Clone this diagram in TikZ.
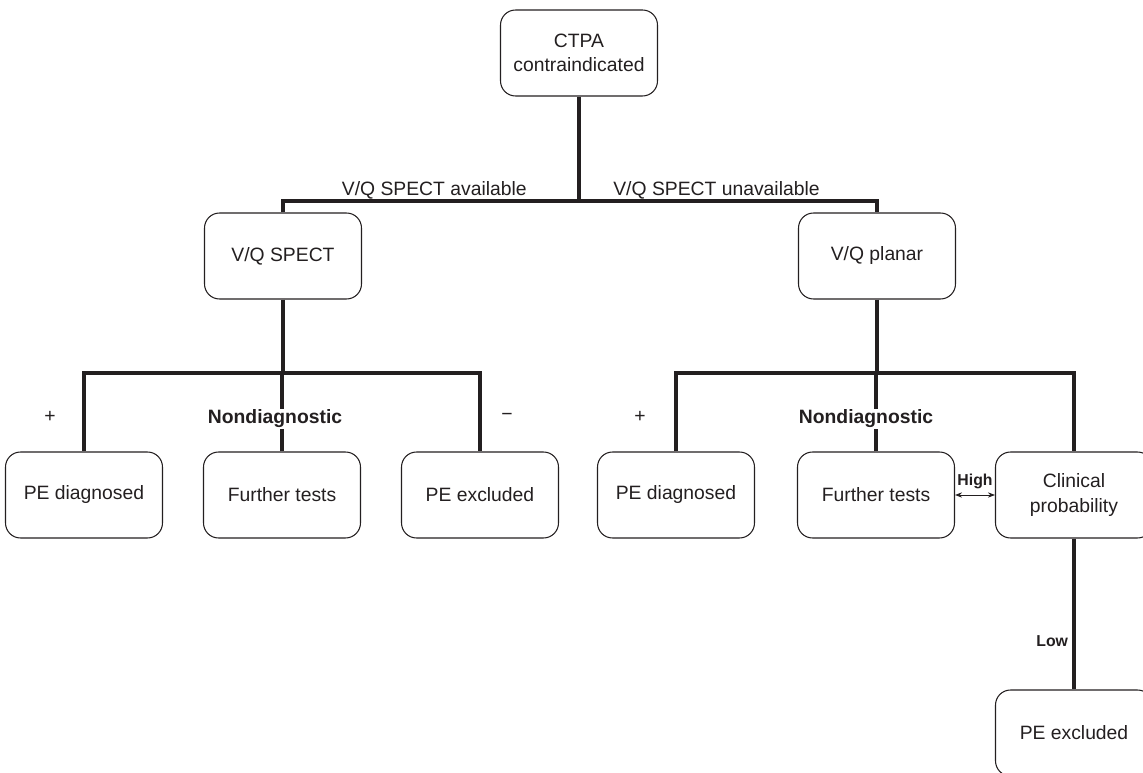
\documentclass[tikz,border=0pt]{standalone}
\usepackage{fontspec}
\setmainfont{Liberation Sans}
\usetikzlibrary{arrows.meta}
\definecolor{inkcolor}{HTML}{231F20}

\begin{document}
\begin{tikzpicture}[
    x=0.02cm, y=-0.02cm,
    block/.style={rectangle, draw=inkcolor, line width=0.6pt, rounded corners=0.3cm,
                  minimum width=3.14cm, minimum height=1.72cm, align=center,
                  text=inkcolor, font=\fontsize{11pt}{14pt}\selectfont},
    branch/.style={draw=inkcolor, line width=2.8pt},
    tag/.style={text=inkcolor, font=\fontsize{11pt}{13pt}\selectfont},
    boldtag/.style={text=inkcolor, font=\fontsize{11pt}{13pt}\selectfont\bfseries,
                    fill=white, inner sep=0.5pt},
    smalltag/.style={text=inkcolor, font=\fontsize{9pt}{11pt}\selectfont\bfseries, inner sep=1pt}
]
\useasboundingbox (0,0) rectangle (1143,773);

\node[block] (ctpa) at (579,53) {CTPA\\contraindicated};
\node[block] (spect) at (283,256) {V/Q SPECT};
\node[block] (planar) at (877,256) {V/Q planar};
\node[block] (diagA) at (84,495) {PE diagnosed};
\node[block] (furtherA) at (282,495) {Further tests};
\node[block] (exclA) at (480,495) {PE excluded};
\node[block] (diagB) at (676,495) {PE diagnosed};
\node[block] (furtherB) at (876,495) {Further tests};
\node[block] (clinical) at (1074,495) {Clinical\\probability};
\node[block] (exclB) at (1074,733) {PE excluded};

\coordinate (top) at (579,201);
\coordinate (splitA) at (283,373);
\coordinate (splitB) at (877,373);

% tree lines
\draw[branch] (ctpa.south) -- (top);
\draw[branch] (spect.north) |- (top) -| (planar.north);
\draw[branch] (spect.south) -- (splitA);
\draw[branch] (diagA.north) |- (splitA) -| (exclA.north);
\draw[branch] (furtherA.north) -- (furtherA.north |- splitA);
\draw[branch] (planar.south) -- (splitB);
\draw[branch] (diagB.north) |- (splitB) -| (clinical.north);
\draw[branch] (furtherB.north) -- (furtherB.north |- splitB);
\draw[branch] (clinical.south) -- node[pos=0.68, left=1pt, smalltag] {Low} (exclB.north);
\draw[inkcolor, line width=0.5pt, {Stealth[length=4pt,width=3pt]}-{Stealth[length=4pt,width=3pt]}]
    (furtherB.east) -- node[above=2pt, smalltag] {High} (clinical.west);

% labels
\node[tag, anchor=base east, inner sep=0pt] (avail) at (527,196) {V/Q SPECT available};
\node[tag, anchor=base west, inner sep=0pt] (unavail) at (613,196) {V/Q SPECT unavailable};
\node[tag] (plusA) at (50,417) {+};
\node[boldtag] (nondiagA) at (275,419) {Nondiagnostic};
\node[tag] (minusA) at (507,417) {−};
\node[tag] (plusB) at (640,417) {+};
\node[boldtag] (nondiagB) at (866,419) {Nondiagnostic};
\end{tikzpicture}
\end{document}
